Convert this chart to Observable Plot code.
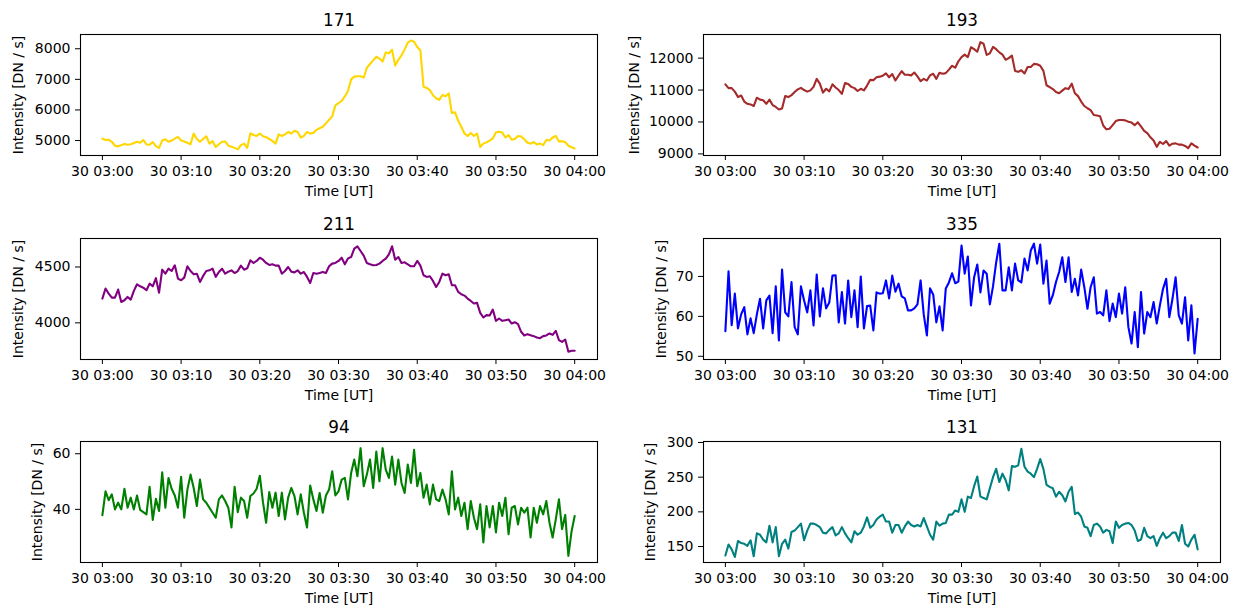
<!DOCTYPE html>
<html><head><meta charset="utf-8">
<script src="https://cdn.jsdelivr.net/npm/d3@7"></script>
<script src="https://cdn.jsdelivr.net/npm/@observablehq/plot@0.6"></script>
<style>
html,body{margin:0;padding:0;background:#fff;}
#fig{position:relative;width:1240px;height:609px;overflow:hidden;background:#fff;}
#fig > svg{position:absolute;}
</style></head><body><div id="fig"></div>
<script>
// Sampling step of every series (minutes after 03:00 UT)
const stepMinutes = 0.4;
const xTickMinutes = [0, 10, 20, 30, 40, 50, 60];
const xTickLabels = ["30 03:00", "30 03:10", "30 03:20", "30 03:30", "30 03:40", "30 03:50", "30 04:00"];

const titles = ["171", "193", "211", "335", "94", "131"];
const colors = ["#FFD700", "#A52A2A", "#800080", "#0000FF", "#008000", "#008080"];

const yTicks171 = [5000, 6000, 7000, 8000];
const yTicks193 = [9000, 10000, 11000, 12000];
const yTicks211 = [4000, 4500];
const yTicks335 = [50, 60, 70];
const yTicks94 = [40, 60];
const yTicks131 = [150, 200, 250, 300];

const v171 = [5060,5020,5030,4960,4830,4810,4850,4890,4860,4880,
 4920,4960,4930,5020,4870,4860,4950,4820,4760,5000,
 5040,4960,5000,5060,5120,5000,4970,4930,4880,5230,
 5050,4960,5050,5140,4900,4980,4790,4880,4960,4970,
 4830,4800,4760,4710,4850,4900,4760,5240,5180,5150,
 5230,5140,5110,5050,4990,4900,5200,5150,5200,5280,
 5230,5320,5280,5100,5150,5280,5230,5250,5350,5400,
 5450,5560,5680,5790,6150,6220,6300,6440,6620,7000,
 7090,7100,7100,7060,7380,7500,7620,7740,7680,7580,
 7880,7850,7970,7450,7640,7780,7980,8200,8270,8230,
 8060,7950,6760,6720,6650,6480,6380,6330,6490,6450,
 6540,5900,5920,5650,5450,5230,5150,5250,5150,5230,
 4790,4900,4940,5000,5070,5270,5290,5260,5100,5180,
 5030,5050,5150,5130,5040,4930,4900,4950,4870,4900,
 4850,5020,5000,5100,5150,4970,4980,4950,4830,4780,
 4740];

const v193 = [11180,11060,11060,10950,10780,10830,10640,10570,10550,10500,
 10760,10700,10680,10570,10700,10530,10470,10390,10420,10810,
 10780,10840,10940,11020,11070,11000,10950,10990,11100,11350,
 11200,10920,11040,10960,11180,11080,11000,10880,11220,11190,
 11100,11060,10970,11040,10990,11140,11320,11310,11400,11420,
 11450,11520,11400,11500,11300,11450,11590,11480,11480,11460,
 11550,11430,11280,11350,11300,11460,11510,11350,11540,11510,
 11530,11640,11760,11700,11900,12030,12110,12030,12340,12280,
 12200,12500,12450,12100,12150,12350,12280,12180,12110,11950,
 12000,12080,11600,11570,11620,11520,11720,11720,11820,11810,
 11760,11600,11150,11090,11030,10940,10900,10980,11060,11030,
 11200,10900,10810,10640,10500,10430,10370,10220,10200,10180,
 9890,9770,9790,9900,10030,10060,10060,10050,10010,9980,
 9900,9990,9860,9720,9650,9520,9420,9220,9380,9310,
 9400,9260,9320,9330,9290,9290,9250,9180,9330,9260,
 9200];

const v211 = [4217,4307,4262,4226,4226,4298,4187,4202,4232,4208,
 4286,4345,4327,4315,4292,4351,4327,4400,4270,4476,
 4440,4485,4464,4515,4396,4381,4405,4506,4464,4435,
 4440,4366,4420,4464,4470,4485,4411,4455,4485,4440,
 4458,4470,4446,4464,4512,4476,4488,4560,4536,4554,
 4583,4565,4536,4518,4524,4512,4512,4440,4464,4500,
 4458,4452,4470,4440,4455,4411,4357,4446,4440,4446,
 4455,4446,4506,4530,4536,4554,4583,4524,4577,4589,
 4664,4685,4643,4601,4536,4524,4515,4518,4530,4554,
 4574,4613,4685,4565,4589,4536,4542,4524,4506,4506,
 4554,4512,4426,4411,4417,4375,4321,4366,4440,4426,
 4435,4336,4336,4277,4256,4244,4217,4196,4173,4179,
 4089,4048,4069,4066,4119,4018,4039,4018,4024,4030,
 3994,4006,3988,3920,3887,3899,3890,3881,3869,3863,
 3881,3887,3905,3893,3929,3845,3830,3851,3741,3750,
 3750];

const v335 = [56.3,71.3,57.8,65.7,57.0,60.5,62.3,55.5,59.5,55.8,
 60.5,64.4,57.0,64.0,65.2,55.8,67.5,54.0,71.7,61.0,
 60.0,68.6,57.3,55.5,67.5,64.0,61.0,66.5,57.75,70.5,
 60.0,67.0,62.0,63.5,70.2,70.3,58.5,66.1,58.2,69.0,
 59.8,66.5,57.3,70.0,57.0,62.6,62.7,56.5,66.0,65.7,
 65.8,69.0,64.5,70.2,66.2,68.2,65.0,64.5,61.5,61.5,
 62.0,63.0,69.0,60.5,55.25,67.0,65.5,58.5,62.5,56.5,
 67.0,68.5,70.8,68.3,68.7,77.75,70.7,75.0,62.75,69.8,
 73.0,66.0,71.5,70.7,63.0,67.5,73.5,78.2,66.5,66.5,
 72.3,66.5,73.2,69.0,68.5,74.5,71.5,76.5,78.2,73.2,
 78.0,68.2,74.0,63.2,65.3,68.6,71.1,74.8,68.6,74.8,
 66.1,69.4,65.25,71.7,67.3,61.9,67.3,69.8,60.7,61.1,
 60.25,66.5,58.8,63.2,59.8,65.7,60.7,67.3,57.3,53.2,
 61.1,52.3,66.1,55.7,61.1,59.8,63.6,58.2,62.75,66.9,
 69.4,59.8,64.4,69.8,60.25,58.2,64.8,54.0,62.75,50.7,
 59.4];

const v94 = [37.9,46.5,43.3,45.4,40.0,42.4,40.0,47.4,40.6,44.2,
 40.0,45.0,39.8,39.0,38.2,48.1,36.2,43.8,39.4,53.3,
 40.6,51.3,47.4,45.0,40.6,51.7,37.0,47.1,52.5,47.7,
 41.2,50.7,43.6,42.4,40.6,38.8,37.0,43.6,45.0,43.0,
 40.6,33.5,48.1,39.0,44.2,43.0,37.0,44.8,45.7,47.4,
 52.1,42.6,35.2,46.2,40.6,46.0,37.6,46.0,36.4,44.2,
 47.7,44.8,38.2,45.4,38.8,33.5,48.6,43.6,39.4,45.9,
 38.8,45.0,47.1,53.7,45.0,46.5,50.7,51.3,43.6,53.1,
 57.9,51.9,62.0,48.3,52.5,57.9,47.7,60.8,50.1,62.0,
 54.3,51.3,59.0,48.9,57.9,49.5,45.9,56.1,49.5,61.4,
 48.3,53.1,44.2,48.9,41.8,48.9,43.6,43.0,47.1,43.6,
 38.2,53.7,40.0,44.2,37.6,42.4,32.9,43.0,37.0,32.9,
 41.8,28.1,41.2,33.5,41.2,31.7,42.4,37.6,44.2,31.1,
 40.6,41.2,34.6,40.6,38.8,40.6,29.9,40.6,35.2,41.2,
 38.2,43.0,35.2,29.9,36.4,43.6,32.9,38.0,23.3,32.0,
 37.6];

const v131 = [137,153,146,135,158,155,154,151,159,136,
 169,167,160,156,180,156,178,136,154,160,
 147,171,173,178,183,159,173,183,183,181,
 178,170,169,174,178,166,169,178,169,162,
 156,172,167,170,179,192,177,181,189,193,
 196,186,186,170,181,181,170,179,186,181,
 179,181,179,191,179,167,160,186,180,183,
 184,196,196,202,200,218,200,222,220,237,
 251,222,220,218,234,250,262,243,255,246,
 231,266,265,267,291,265,258,255,250,262,
 276,262,239,236,234,222,229,224,215,229,
 236,197,199,193,179,177,165,181,183,179,
 170,174,172,155,186,177,181,183,184,181,
 173,158,160,177,165,162,165,151,162,170,
 162,165,170,170,158,181,154,150,160,167,
 146];

// ---- layout (positions, sizes, styles) ----
const FRAME_W = 517, FRAME_H = 121, SVG_W = 620, SVG_H = 203;
const xDomain = [-2.78, 62.9];
const layout = [
  {values: v171, yDomain: [4511, 8466], yTicks: yTicks171, left: 0,   top: 0,   ml: 80, ylabDx: -61.5},
  {values: v193, yDomain: [8950, 12740], yTicks: yTicks193, left: 620, top: 0,   ml: 83, ylabDx: -69},
  {values: v211, yDomain: [3672, 4755], yTicks: yTicks211, left: 0,   top: 204, ml: 80, ylabDx: -62},
  {values: v335, yDomain: [49.2, 79.5], yTicks: yTicks335, left: 620, top: 204, ml: 83, ylabDx: -42},
  {values: v94,  yDomain: [20.9, 64.4], yTicks: yTicks94,  left: 0,   top: 407, ml: 80, ylabDx: -43},
  {values: v131, yDomain: [127, 301.4], yTicks: yTicks131, left: 620, top: 407, ml: 83, ylabDx: -53}
];

const fig = document.getElementById("fig");
layout.forEach((p, k) => {
  const data = p.values.map((v, i) => ({m: i * stepMinutes, v}));
  const svg = Plot.plot({
    width: SVG_W, height: SVG_H,
    marginLeft: p.ml, marginRight: SVG_W - p.ml - FRAME_W,
    marginTop: 34, marginBottom: SVG_H - 34 - FRAME_H,
    style: {fontFamily: "'DejaVu Sans', sans-serif", fontSize: "14px", color: "black", background: "white"},
    x: {type: "linear", domain: xDomain},
    y: {type: "linear", domain: p.yDomain},
    marks: [
      Plot.lineY(data, {x: "m", y: "v", stroke: colors[k], strokeWidth: 2.1, strokeLinejoin: "round"}),
      Plot.frame({stroke: "black", strokeWidth: 1.1}),
      Plot.axisX({ticks: xTickMinutes, tickFormat: d => xTickLabels[xTickMinutes.indexOf(d)],
        tickSize: 5, tickPadding: 6, label: null, fontSize: 14}),
      Plot.axisY({ticks: p.yTicks, tickFormat: d => String(d), tickSize: 5, tickPadding: 5, label: null, fontSize: 14}),
      Plot.text([titles[k]], {text: d => d, frameAnchor: "top", lineAnchor: "bottom", dy: -8.4, fontSize: 16.8, fill: "black"}),
      Plot.text(["Time [UT]"], {text: d => d, frameAnchor: "bottom", lineAnchor: "bottom", dy: 40, fontSize: 14, fill: "black"}),
      Plot.text(["Intensity [DN / s]"], {text: d => d, frameAnchor: "left", textAnchor: "middle", rotate: -90, dx: p.ylabDx, fontSize: 14, fill: "black"})
    ]
  });
  svg.style.left = p.left + "px";
  svg.style.top = p.top + "px";
  fig.appendChild(svg);
});
</script></body></html>
